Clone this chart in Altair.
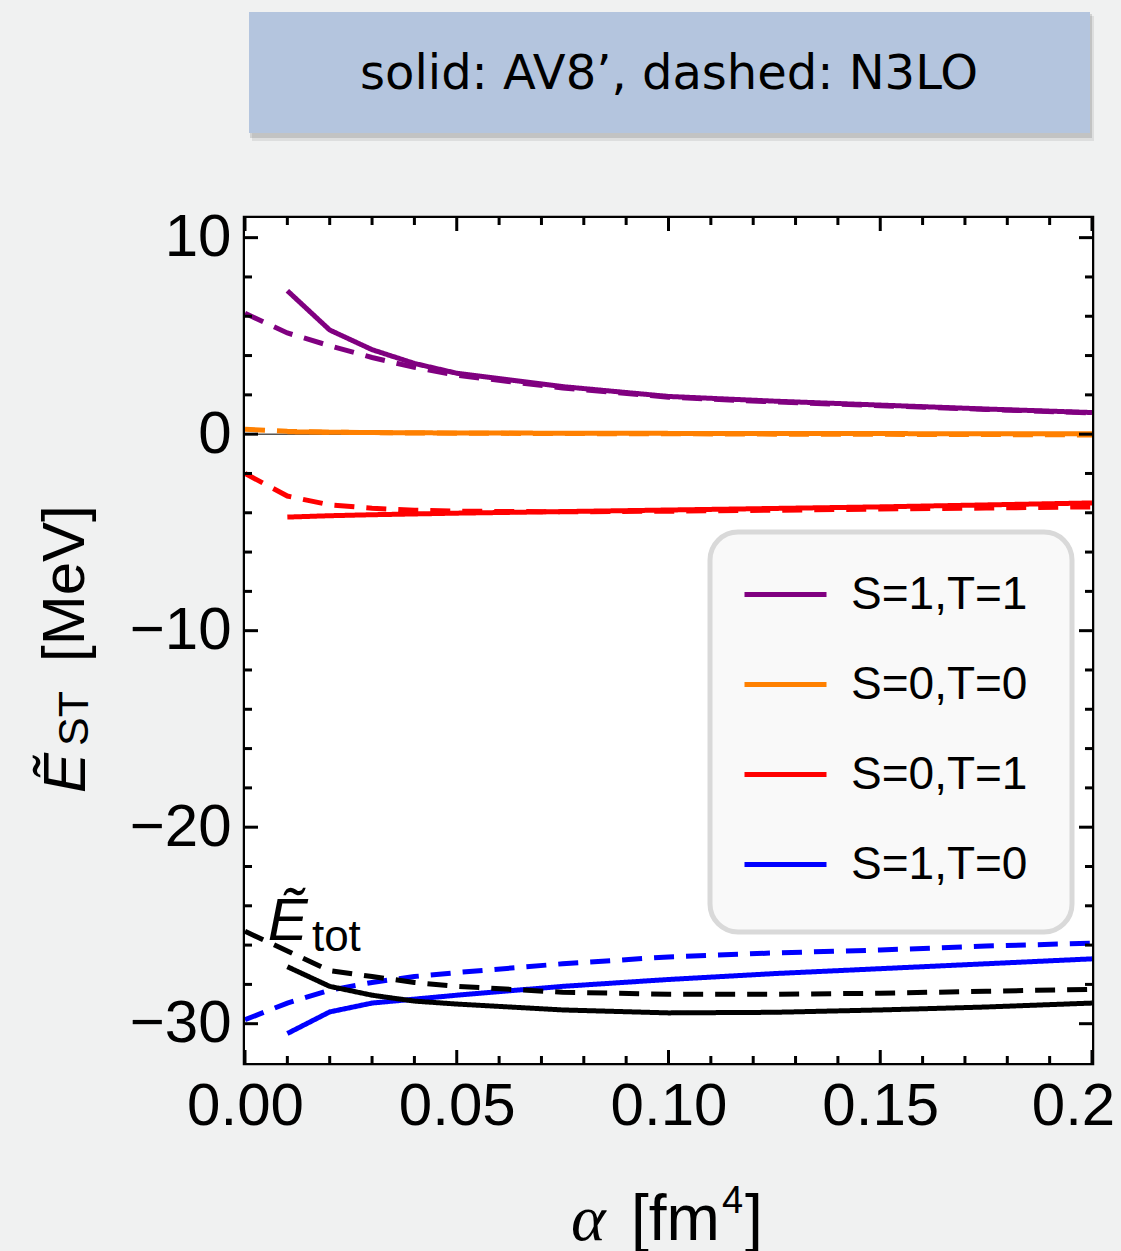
import altair as alt
import pandas as pd

# ---------------- data ----------------
alpha_av8 = [0.01, 0.02, 0.03, 0.04, 0.05, 0.075, 0.10, 0.125, 0.15, 0.175, 0.20]
alpha_n3lo = [0.0, 0.01, 0.02, 0.03, 0.04, 0.05, 0.075, 0.10, 0.125, 0.15, 0.175, 0.20]

series_names = ["S=1,T=1", "S=0,T=0", "S=0,T=1", "S=1,T=0", "tot"]
series_colors = ["#800080", "#ff8000", "#ff0000", "#0000ff", "#000000"]
model_names = ["AV8'", "N3LO"]

s11_av8 = [7.3, 5.3, 4.3, 3.6, 3.1, 2.42, 1.92, 1.68, 1.48, 1.28, 1.1]
s11_n3lo = [6.15, 5.15, 4.5, 3.9, 3.4, 3.0, 2.35, 1.88, 1.64, 1.45, 1.26, 1.08]
s00_av8 = [0.12, 0.1, 0.08, 0.07, 0.06, 0.05, 0.04, 0.03, 0.03, 0.02, 0.02]
s00_n3lo = [0.25, 0.15, 0.1, 0.08, 0.06, 0.05, 0.03, 0.02, 0.0, -0.01, -0.02, -0.04]
s01_av8 = [-4.22, -4.15, -4.1, -4.06, -4.02, -3.94, -3.86, -3.78, -3.7, -3.6, -3.5]
s01_n3lo = [-2.0, -3.15, -3.6, -3.77, -3.87, -3.92, -3.95, -3.92, -3.87, -3.81, -3.76, -3.7]
s10_av8 = [-30.5, -29.4, -28.95, -28.75, -28.55, -28.1, -27.75, -27.45, -27.2, -26.95, -26.7]
s10_n3lo = [-29.8, -28.95, -28.3, -27.9, -27.6, -27.4, -26.95, -26.6, -26.4, -26.25, -26.05, -25.9]
tot_av8 = [-27.1, -28.1, -28.55, -28.85, -29.0, -29.3, -29.45, -29.42, -29.3, -29.15, -28.95]
tot_n3lo = [-25.3, -26.3, -27.3, -27.6, -27.9, -28.1, -28.4, -28.5, -28.5, -28.45, -28.35, -28.25]

x_major = [0.0, 0.05, 0.10, 0.15, 0.20]
x_minor = [0.01, 0.02, 0.03, 0.04, 0.06, 0.07, 0.08, 0.09, 0.11, 0.12, 0.13, 0.14,
           0.16, 0.17, 0.18, 0.19]
y_major = [-30, -20, -10, 0, 10]
y_minor = [-28, -26, -24, -22, -18, -16, -14, -12, -8, -6, -4, -2, 2, 4, 6, 8]

header_text = "solid: AV8\u2019, dashed: N3LO"
etot_label = ["\u1EBC", "tot"]
etot_pos = [(0.0054, -25.75), (0.0158, -26.31)]
ytitle_parts = ["\u1EBC", "ST", "[MeV]"]
xtitle_parts = ["\u03b1", "[fm", "4", "]"]

# ---------------- layout ----------------
W, H = 847, 845
PAD = {"left": 245, "top": 218, "right": 29, "bottom": 188}
X_DOMAIN = [0, 0.2]
Y_DOMAIN = [-32, 11]
SANS = "Liberation Sans"

xscale = alt.Scale(domain=X_DOMAIN, nice=False, zero=False)
yscale = alt.Scale(domain=Y_DOMAIN, nice=False, zero=False)
# the last label is cut by the picture edge in the original ("0.2")
xaxis = alt.Axis(values=x_major, title=None, ticks=False, domain=False,
                 labelExpr="datum.value >= 0.199 ? '0.2' : format(datum.value, '.2f')",
                 labelOffset={"condition": {"test": "datum.value >= 0.199", "value": -19},
                              "value": 0},
                 grid=False, labelFont=SANS, labelFontSize=60, labelColor="black",
                 labelPadding=14, labelFlush=False, labelOverlap=False, labelBound=False)
yaxis = alt.Axis(values=y_major, format="d", title=None, ticks=False, domain=False,
                 grid=False, labelFont=SANS, labelFontSize=60, labelColor="black",
                 labelPadding=14, labelOverlap=False)

rows = []
vals = {
    ("S=1,T=1", "AV8'"): s11_av8, ("S=1,T=1", "N3LO"): s11_n3lo,
    ("S=0,T=0", "AV8'"): s00_av8, ("S=0,T=0", "N3LO"): s00_n3lo,
    ("S=0,T=1", "AV8'"): s01_av8, ("S=0,T=1", "N3LO"): s01_n3lo,
    ("S=1,T=0", "AV8'"): s10_av8, ("S=1,T=0", "N3LO"): s10_n3lo,
    ("tot", "AV8'"): tot_av8, ("tot", "N3LO"): tot_n3lo,
}
for (s, m), ys in vals.items():
    xs = alpha_av8 if m == "AV8'" else alpha_n3lo
    for a, e in zip(xs, ys):
        rows.append({"alpha": a, "E": e, "series": s, "model": m})
df = pd.DataFrame(rows)

one = pd.DataFrame({"k": [0]})

# white plot area
plot_bg = alt.Chart(one).mark_rect(color="white").encode(
    x=alt.value(0), x2=alt.value(W), y=alt.value(0), y2=alt.value(H))

# header box
shadow1 = alt.Chart(one).mark_rect(color="black", opacity=0.08).encode(
    x=alt.value(7), x2=alt.value(849), y=alt.value(-202), y2=alt.value(-77))
shadow2 = alt.Chart(one).mark_rect(color="black", opacity=0.12).encode(
    x=alt.value(5), x2=alt.value(847), y=alt.value(-204), y2=alt.value(-80))
header_box = alt.Chart(one).mark_rect(color="#b4c5de").encode(
    x=alt.value(4), x2=alt.value(845), y=alt.value(-206), y2=alt.value(-85))
header = alt.Chart(pd.DataFrame({"t": [header_text]})).mark_text(
    font="DejaVu Sans", fontSize=48, color="black", align="center", baseline="middle",
    x=424, y=-143).encode(text="t:N")

zero_line = alt.Chart(pd.DataFrame({"E": [0]})).mark_rule(color="black", strokeWidth=1).encode(
    y=alt.Y("E:Q", scale=yscale, axis=yaxis))

lines = alt.Chart(df).mark_line(strokeWidth=5, clip=True).encode(
    x=alt.X("alpha:Q", scale=xscale, axis=xaxis),
    y=alt.Y("E:Q", scale=yscale, axis=yaxis),
    color=alt.Color("series:N", scale=alt.Scale(domain=series_names, range=series_colors),
                    legend=alt.Legend(values=series_names[:4], orient="none",
                                      legendX=497, legendY=333, title=None,
                                      symbolType="stroke", symbolSize=6724,
                                      symbolStrokeWidth=5, labelFont=SANS,
                                      labelFontSize=46, labelColor="black",
                                      labelOffset=22, rowPadding=23, padding=0,
                                      labelLimit=400)),
    strokeDash=alt.StrokeDash("model:N", scale=alt.Scale(domain=model_names,
                              range=[[1, 0], [20, 12]]), legend=None),
    detail="model:N",
    order="alpha:Q",
)

legend_box = alt.Chart(one).mark_rect(fill="#f9f9f9", stroke="#d9d9d9", strokeWidth=5,
                                      cornerRadius=28).encode(
    x=alt.value(465), x2=alt.value(827), y=alt.value(314), y2=alt.value(714))

# tick marks (inward, all four sides)
def xticks(vals_, L):
    d = pd.DataFrame({"alpha": vals_})
    base = alt.Chart(d).mark_rule(color="black", strokeWidth=3)
    xe = alt.X("alpha:Q", scale=xscale, axis=xaxis)
    return [base.encode(x=xe, y=alt.value(H), y2=alt.value(H - L)),
            base.encode(x=xe, y=alt.value(0), y2=alt.value(L))]

def yticks(vals_, L):
    d = pd.DataFrame({"E": vals_})
    base = alt.Chart(d).mark_rule(color="black", strokeWidth=3)
    ye = alt.Y("E:Q", scale=yscale, axis=yaxis)
    return [base.encode(y=ye, x=alt.value(0), x2=alt.value(L)),
            base.encode(y=ye, x=alt.value(W), x2=alt.value(W - L))]

ticks = xticks(x_major, 13) + xticks(x_minor, 7) + yticks(y_major, 13) + yticks(y_minor, 7)

# E_tot annotation
etot_df = pd.DataFrame({"alpha": [p[0] for p in etot_pos], "E": [p[1] for p in etot_pos],
                        "t": etot_label})
etot_E = alt.Chart(etot_df.iloc[[0]]).mark_text(
    font=SANS, fontSize=60, fontStyle="italic", color="black", align="left",
    baseline="alphabetic").encode(x=alt.X("alpha:Q", scale=xscale, axis=xaxis),
                                  y=alt.Y("E:Q", scale=yscale, axis=yaxis), text="t:N")
etot_sub = alt.Chart(etot_df.iloc[[1]]).mark_text(
    font=SANS, fontSize=44, color="black", align="left",
    baseline="alphabetic").encode(x=alt.X("alpha:Q", scale=xscale, axis=xaxis),
                                  y=alt.Y("E:Q", scale=yscale, axis=yaxis), text="t:N")

# titles
def txt(t, **kw):
    return alt.Chart(pd.DataFrame({"t": [t]})).mark_text(color="black", **kw).encode(text="t:N")

yt1 = txt(ytitle_parts[0], font=SANS, fontSize=60, fontStyle="italic", angle=270,
          align="left", baseline="alphabetic", x=-160, y=575)
yt2 = txt(ytitle_parts[1], font=SANS, fontSize=43, angle=270,
          align="left", baseline="alphabetic", x=-157, y=528)
yt3 = txt(ytitle_parts[2], font=SANS, fontSize=60, angle=270,
          align="left", baseline="alphabetic", x=-161, y=444)

xt1 = txt(xtitle_parts[0], font="Liberation Serif", fontSize=66, fontStyle="italic",
          align="left", baseline="alphabetic", x=326, y=1022)
xt2 = txt(xtitle_parts[1], font=SANS, fontSize=64, align="left", baseline="alphabetic",
          x=386, y=1022)
xt3 = txt(xtitle_parts[2], font=SANS, fontSize=38, align="left", baseline="alphabetic",
          x=477, y=995)
xt4 = txt(xtitle_parts[3], font=SANS, fontSize=64, align="left", baseline="alphabetic",
          x=500, y=1022)

chart = alt.layer(
    plot_bg, shadow1, shadow2, header_box, header,
    zero_line, lines, legend_box, *ticks,
    etot_E, etot_sub, yt1, yt2, yt3, xt1, xt2, xt3, xt4,
).properties(
    width=W, height=H,
    autosize=alt.AutoSizeParams(type="none"),
    padding=PAD,
    background="#f0f1f1",
).configure_view(
    stroke="black", strokeWidth=4.5
)

chart.save("out.html", embed_options={"renderer": "svg", "actions": False})
